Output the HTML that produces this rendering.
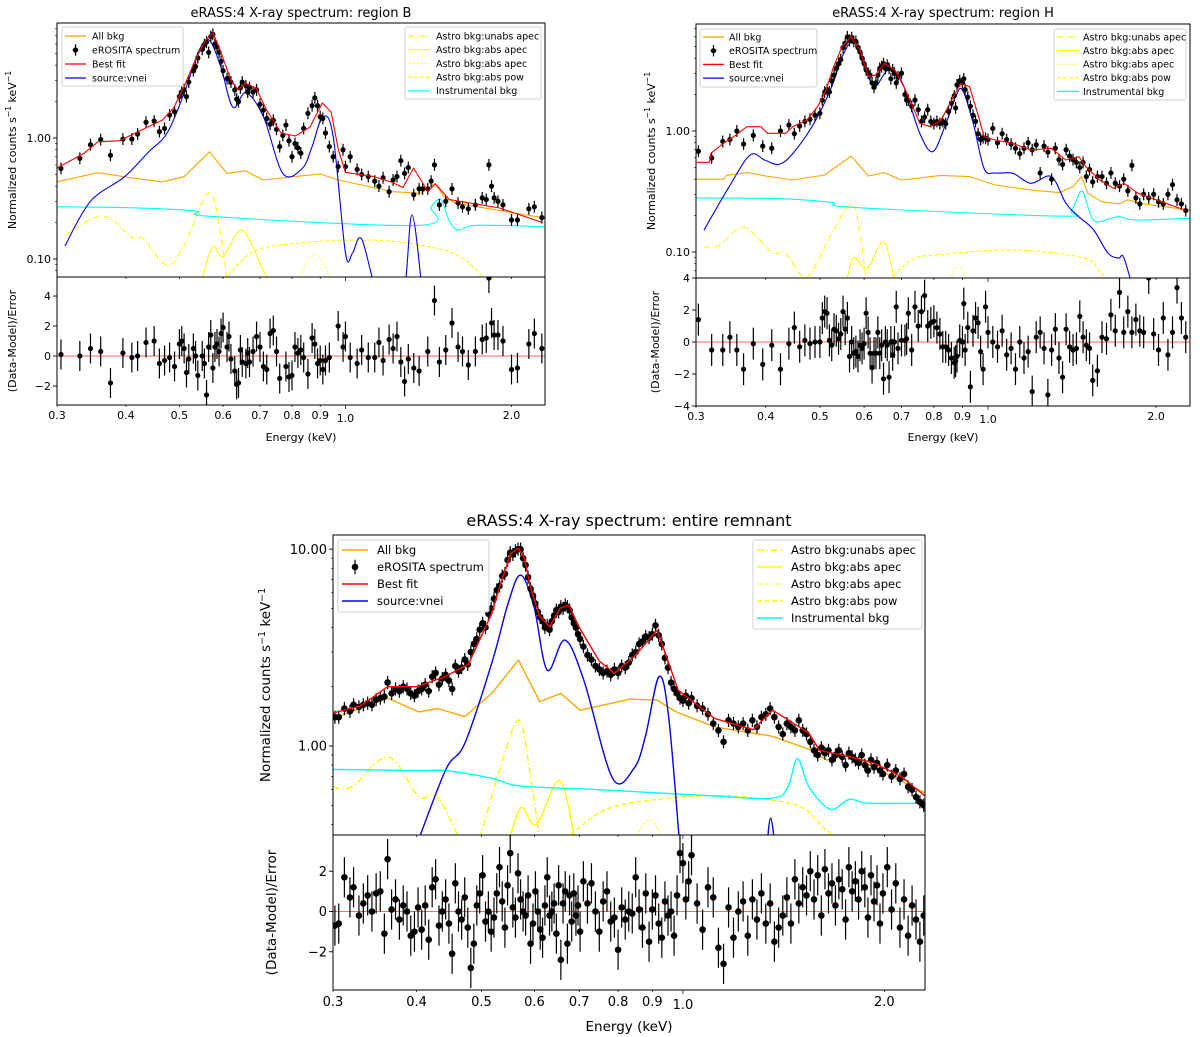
<!DOCTYPE html>
<html><head><meta charset="utf-8">
<style>
html,body{margin:0;padding:0;background:#fff;}
svg{display:block;font-family:"DejaVu Sans","Liberation Sans",sans-serif;}
</style></head>
<body>
<svg id="fig" width="1200" height="1037" viewBox="0 0 1200 1037" xmlns="http://www.w3.org/2000/svg"></svg>
<script>
// ---------- Region B data ----------
const bBestFit=[[0.3,0.565],[0.336,0.75],[0.356,0.93],[0.39,0.95],[0.426,1.16],[0.466,1.41],[0.488,1.77],[0.51,2.66],[0.534,4.4],[0.558,6.45],[0.575,7.4],[0.593,5.3],[0.62,3.0],[0.639,2.5],[0.658,2.84],[0.688,2.6],[0.72,1.70],[0.764,1.10],[0.811,1.04],[0.862,1.23],[0.908,1.95],[0.942,1.64],[0.971,0.80],[1.0,0.52],[1.127,0.48],[1.215,0.43],[1.271,0.39],[1.329,0.565],[1.37,0.45],[1.411,0.36],[1.454,0.42],[1.544,0.31],[1.904,0.264],[2.278,0.20]];
const bAllBkg=[[0.3,0.435],[0.356,0.517],[0.41,0.468],[0.466,0.435],[0.51,0.479],[0.567,0.77],[0.61,0.51],[0.658,0.536],[0.71,0.45],[0.90,0.505],[0.971,0.45],[1.215,0.36],[1.37,0.35],[1.454,0.42],[1.51,0.327],[1.58,0.29],[2.3,0.218]];
const bInstr=[[0.3,0.27],[0.41,0.265],[0.534,0.25],[0.575,0.224],[1.36,0.19],[1.43,0.27],[1.49,0.31],[1.54,0.21],[1.6,0.174],[1.73,0.19],[2.3,0.185]];
const bSource=[[0.31,0.128],[0.345,0.30],[0.397,0.475],[0.44,0.77],[0.475,1.1],[0.51,2.35],[0.54,5.0],[0.565,6.5],[0.594,3.9],[0.625,1.8],[0.66,2.37],[0.71,1.5],[0.77,0.51],[0.835,0.56],[0.87,0.85],[0.91,1.5],[0.95,1.03],[1.0,0.112],[1.03,0.112],[1.07,0.146],[1.15,0.05],[1.27,0.05],[1.32,0.231],[1.38,0.05]];
const bUnabsApec=[[0.31,0.158],[0.363,0.227],[0.41,0.15],[0.43,0.146],[0.475,0.089],[0.51,0.13],[0.565,0.353],[0.594,0.16],[0.615,0.05]];
const bAbsApec=[[0.54,0.05],[0.573,0.125],[0.60,0.105],[0.65,0.174],[0.71,0.08],[0.76,0.05]];
const bAbsApec2=[[0.80,0.05],[0.88,0.11],[0.97,0.05]];
const bAbsPow=[[0.58,0.05],[0.67,0.11],[0.83,0.136],[1.13,0.143],[1.41,0.127],[1.64,0.10],[1.90,0.05]];
const bData=[[0.305,0.56],[0.33,0.68],[0.345,0.88],[0.36,0.97],[0.375,0.72],[0.395,0.98],[0.41,0.98],[0.42,1.08],[0.435,1.35],[0.45,1.38],[0.46,1.13],[0.47,1.20],[0.48,1.55],[0.49,1.65],[0.50,2.2],[0.505,2.4],[0.51,2.5],[0.515,2.2],[0.52,2.9],[0.53,3.6],[0.535,3.9],[0.54,4.6],[0.55,5.4],[0.555,5.9],[0.56,6.2],[0.565,5.1],[0.57,6.9],[0.575,7.2],[0.58,6.0],[0.585,5.7],[0.59,5.1],[0.595,4.3],[0.60,3.6],[0.61,3.1],[0.615,3.1],[0.62,2.9],[0.63,2.5],[0.635,2.1],[0.64,2.0],[0.645,2.6],[0.65,2.9],[0.66,2.7],[0.665,2.4],[0.67,2.6],[0.68,2.4],[0.69,2.5],[0.70,1.9],[0.71,1.7],[0.72,1.45],[0.73,1.30],[0.74,1.40],[0.75,1.18],[0.76,0.85],[0.77,1.05],[0.78,1.28],[0.79,0.95],[0.80,0.7],[0.81,0.9],[0.82,0.83],[0.83,0.75],[0.84,1.2],[0.855,1.6],[0.87,1.85],[0.88,2.15],[0.89,1.85],[0.90,1.5],[0.91,1.45],[0.92,1.1],[0.935,0.85],[0.95,0.7],[0.97,0.58],[0.99,0.80],[1.0,0.58],[1.02,0.70],[1.05,0.55],[1.07,0.50],[1.10,0.48],[1.13,0.44],[1.15,0.40],[1.17,0.47],[1.20,0.36],[1.22,0.45],[1.24,0.48],[1.26,0.65],[1.28,0.51],[1.30,0.57],[1.33,0.34],[1.36,0.38],[1.38,0.38],[1.41,0.38],[1.43,0.44],[1.45,0.60],[1.48,0.28],[1.52,0.30],[1.56,0.38],[1.60,0.29],[1.63,0.27],[1.67,0.26],[1.72,0.28],[1.77,0.32],[1.80,0.31],[1.82,0.60],[1.84,0.40],[1.86,0.32],[1.89,0.30],[1.93,0.28],[2.00,0.21],[2.05,0.21],[2.15,0.26],[2.2,0.27],[2.27,0.22]];
const bResid=[[0.305,0.1],[0.33,0],[0.345,0.5],[0.36,0.3],[0.375,-1.8],[0.395,0.2],[0.41,-0.1],[0.42,0],[0.435,0.9],[0.45,1.0],[0.46,-0.5],[0.47,-0.3],[0.48,-0.1],[0.49,-0.7],[0.50,0.8],[0.505,1.0],[0.51,0.5],[0.515,-1.1],[0.52,-0.2],[0.53,0.5],[0.535,0],[0.54,-1.3],[0.55,0],[0.555,-0.5],[0.56,-2.6],[0.565,0.6],[0.57,1.4],[0.575,-0.8],[0.58,0.6],[0.585,0.8],[0.59,0.3],[0.595,1.5],[0.60,1.9],[0.61,0.6],[0.615,1.3],[0.62,-0.2],[0.63,-1],[0.635,-1.9],[0.64,-1.8],[0.645,0.4],[0.65,-0.4],[0.66,-0.5],[0.665,0.2],[0.67,-0.4],[0.68,0.3],[0.69,1.3],[0.70,0.6],[0.71,-0.7],[0.72,-0.9],[0.73,1.5],[0.74,1.7],[0.75,0.3],[0.76,-1.5],[0.78,-0.7],[0.79,-1.4],[0.80,-1.3],[0.81,0.6],[0.82,0.2],[0.83,0.4],[0.84,-0.1],[0.855,-1.2],[0.87,1.2],[0.88,0.8],[0.89,-0.5],[0.90,-0.3],[0.91,-0.9],[0.92,-0.3],[0.935,-0.1],[0.97,2.0],[0.99,0.6],[1.0,1.3],[1.02,-0.1],[1.05,-0.5],[1.07,0.4],[1.10,-0.1],[1.13,-0.1],[1.15,0.9],[1.17,-0.3],[1.20,1.1],[1.22,0.5],[1.24,1.3],[1.26,-0.4],[1.28,-1.7],[1.30,-0.2],[1.33,-0.8],[1.36,-1.0],[1.41,0.3],[1.45,3.7],[1.48,-0.4],[1.52,0.4],[1.56,2.2],[1.60,0.6],[1.63,0.3],[1.67,-0.6],[1.72,0.3],[1.77,1.1],[1.80,1.2],[1.82,5.2],[1.84,2.2],[1.86,1.4],[1.89,1.4],[1.93,1.0],[2.00,-0.9],[2.05,-0.8],[2.15,0.8],[2.2,1.5],[2.27,0.5]];

// ---------- Region H data ----------
const hBestFit=[[0.301,0.551],[0.317,0.551],[0.319,0.654],[0.336,0.791],[0.354,0.927],[0.37,1.086],[0.392,1.086],[0.403,0.957],[0.434,0.957],[0.447,1.086],[0.474,1.233],[0.495,1.589],[0.51,2.047],[0.529,3.40],[0.548,4.98],[0.569,6.02],[0.59,4.67],[0.611,2.81],[0.629,2.90],[0.652,3.62],[0.681,3.19],[0.712,2.18],[0.755,1.157],[0.789,1.086],[0.824,1.233],[0.861,1.80],[0.893,2.48],[0.927,2.32],[0.962,1.31],[0.984,0.898],[1.03,0.843],[1.108,0.79],[1.193,0.697],[1.298,0.719],[1.379,0.576],[1.454,0.614],[1.497,0.507],[1.585,0.394],[1.678,0.336],[1.752,0.37],[1.855,0.306],[2.254,0.222]];
const hAllBkg=[[0.30,0.40],[0.336,0.40],[0.34,0.43],[0.37,0.453],[0.40,0.425],[0.447,0.394],[0.51,0.433],[0.569,0.62],[0.611,0.425],[0.652,0.453],[0.70,0.394],[0.824,0.43],[0.927,0.42],[1.03,0.358],[1.19,0.326],[1.34,0.31],[1.42,0.347],[1.47,0.42],[1.51,0.306],[1.6,0.26],[1.72,0.25],[1.78,0.27],[1.9,0.25],[2.3,0.222]];
const hInstr=[[0.30,0.28],[0.422,0.276],[0.525,0.257],[0.573,0.234],[1.34,0.198],[1.41,0.22],[1.47,0.32],[1.51,0.237],[1.56,0.178],[1.71,0.196],[1.84,0.184],[2.3,0.19]];
const hSource=[[0.31,0.152],[0.344,0.347],[0.375,0.633],[0.398,0.576],[0.422,0.53],[0.447,0.65],[0.488,1.16],[0.525,2.32],[0.548,4.1],[0.573,5.47],[0.598,3.86],[0.625,2.32],[0.663,3.19],[0.703,2.48],[0.755,0.956],[0.796,0.675],[0.837,1.09],[0.875,1.92],[0.90,2.18],[0.941,1.16],[0.984,0.49],[1.03,0.45],[1.108,0.447],[1.193,0.37],[1.298,0.42],[1.379,0.253],[1.454,0.196],[1.546,0.152],[1.64,0.098],[1.713,0.089],[1.752,0.089],[1.842,0.04]];
const hUnabsApec=[[0.31,0.11],[0.33,0.114],[0.365,0.16],[0.41,0.10],[0.434,0.098],[0.474,0.0625],[0.525,0.143],[0.569,0.249],[0.59,0.143],[0.611,0.04]];
const hAbsApec=[[0.55,0.04],[0.573,0.0886],[0.607,0.073],[0.652,0.12],[0.69,0.04]];
const hAbsApec2=[[0.83,0.04],[0.886,0.0768],[0.945,0.04]];
const hAbsPow=[[0.63,0.04],[0.72,0.083],[0.824,0.095],[1.108,0.104],[1.48,0.09],[1.585,0.069],[1.79,0.04]];
const hData=[[0.303,0.68],[0.32,0.60],[0.335,0.82],[0.345,0.85],[0.355,1.00],[0.365,0.78],[0.38,0.92],[0.395,0.75],[0.41,0.72],[0.425,1.00],[0.44,1.12],[0.45,0.95],[0.46,1.10],[0.47,1.20],[0.48,1.25],[0.49,1.35],[0.50,1.40],
[0.505,1.80],[0.51,2.1],[0.515,2.2],[0.52,2.1],[0.525,2.6],[0.53,2.9],[0.535,3.3],[0.54,3.6],[0.545,3.9],[0.55,4.9],[0.555,5.3],[0.56,6.0],[0.565,5.6],[0.57,5.9],[0.575,5.5],[0.58,5.5],[0.585,4.9],[0.59,4.5],[0.595,4.0],[0.60,3.6],[0.605,3.2],[0.61,3.0],[0.615,2.9],[0.62,2.5],[0.625,2.3],[0.63,2.5],[0.635,2.9],[0.64,3.3],[0.645,3.4],[0.65,3.6],[0.655,3.3],[0.66,3.5],[0.665,3.3],[0.67,2.7],[0.675,3.2],[0.68,3.0],[0.685,2.5],[0.69,2.8],[0.70,3.0],
[0.71,2.0],[0.715,1.8],[0.72,1.8],[0.73,1.6],[0.74,1.8],[0.75,1.5],[0.76,1.2],[0.77,1.3],[0.78,1.5],[0.79,1.2],[0.80,1.15],[0.81,1.2],[0.82,1.15],[0.83,1.2],[0.84,1.15],[0.85,1.45],[0.86,1.7],[0.87,1.95],
[0.875,1.55],[0.88,2.4],[0.89,2.6],[0.90,2.5],[0.905,2.7],[0.91,2.2],[0.92,1.9],[0.93,1.6],[0.94,1.35],[0.95,1.2],[0.96,0.95],[0.97,0.85],[0.98,0.88],[0.99,0.87],[1.0,0.85],
[1.02,1.05],[1.04,0.80],[1.06,0.95],[1.08,0.85],[1.10,0.78],[1.12,0.72],[1.14,0.65],[1.16,0.72],[1.18,0.80],[1.20,0.70],[1.22,0.77],[1.24,0.45],[1.26,0.75],[1.28,0.67],[1.30,0.40],[1.32,0.72],[1.34,0.58],[1.36,0.53],[1.38,0.70],[1.40,0.62],[1.42,0.58],[1.44,0.55],[1.46,0.50],[1.48,0.55],[1.50,0.42],[1.52,0.48],[1.54,0.38],
[1.57,0.42],[1.60,0.42],[1.63,0.37],[1.66,0.45],[1.69,0.37],[1.72,0.35],[1.75,0.40],[1.78,0.32],[1.81,0.52],[1.84,0.28],[1.87,0.25],[1.90,0.30],
[1.94,0.28],[1.98,0.30],[2.02,0.26],[2.06,0.25],[2.10,0.30],[2.14,0.36],[2.18,0.27],[2.22,0.25],[2.26,0.22]];
const hResid=[1.4,-0.5,-0.5,0.3,-0.5,-1.7,-0.1,-1.4,-0.2,-1.7,-0.1,0.9,-0.3,0.1,-0.1,0.0,0.0,
1.5,1.9,1.8,0.1,-0.2,0.8,0.7,0.2,0.5,1.9,0.8,1.5,-0.9,0.0,-0.7,-0.6,-0.9,-0.2,-0.4,-0.1,1.8,0.6,-0.7,-1.6,-0.7,-0.7,0.6,-0.7,-0.2,-2.3,0.0,-0.2,-2.2,0.0,-0.8,0.0,2.2,-0.4,0.1,
0.1,0.2,1.8,-0.5,2.2,1.0,1.9,2.9,1.0,1.2,1.3,0.9,0.5,-0.3,-0.3,-0.5,-1.0,-1.3,
-1.2,-0.9,0.1,0,2.4,-0.5,0.9,-2.8,0.7,1.5,1.2,-0.6,-1.7,2.2,0.6,
0.0,-0.3,0.7,-0.8,-0.4,-1.7,0.0,-1.0,-0.6,-3.1,0.3,0.6,-0.4,-3.3,-0.5,0.8,-1.0,-2.2,0.8,-0.3,-0.5,-0.4,1.6,0.3,-0.2,-0.4,-2.4,
-1.8,0.3,0.2,1.7,0.7,3.1,0.6,1.9,0.6,1.4,0.7,0.6,
4.0,0.5,-0.5,1.5,-0.8,0.6,3.4,1.5,0.3];

// ---------- Entire remnant data ----------
const mBestFit=[[0.3,1.47],[0.33,1.6],[0.362,2.0],[0.40,2.0],[0.44,2.24],[0.478,2.6],[0.518,4.7],[0.532,6.4],[0.553,9.5],[0.568,10.1],[0.58,9.0],[0.591,6.5],[0.61,4.6],[0.632,4.03],[0.655,5.0],[0.675,5.2],[0.70,4.0],[0.75,2.7],[0.79,2.34],[0.85,2.9],[0.915,3.88],[0.94,3.0],[0.984,1.92],[1.116,1.38],[1.274,1.21],[1.361,1.52],[1.435,1.36],[1.543,1.16],[1.6,0.95],[1.773,0.883],[1.93,0.82],[2.12,0.70],[2.306,0.553]];
const mAllBkg=[[0.3,1.38],[0.362,1.75],[0.403,1.49],[0.43,1.55],[0.472,1.41],[0.518,1.85],[0.568,2.73],[0.611,1.68],[0.657,1.85],[0.702,1.52],[0.834,1.73],[0.915,1.71],[0.977,1.49],[1.116,1.25],[1.361,1.12],[1.553,0.954],[1.638,0.849],[1.773,0.90],[2.306,0.575]];
const mInstr=[[0.3,0.76],[0.403,0.75],[0.442,0.75],[0.518,0.686],[0.572,0.627],[0.75,0.60],[1.116,0.557],[1.361,0.543],[1.435,0.62],[1.483,0.866],[1.543,0.62],[1.66,0.477],[1.773,0.536],[1.895,0.512],[2.306,0.512]];
const mSource=[[0.398,0.30],[0.442,0.755],[0.472,1.03],[0.518,2.63],[0.548,5.30],[0.572,7.38],[0.599,5.10],[0.627,2.43],[0.666,3.45],[0.711,2.16],[0.785,0.685],[0.845,0.77],[0.879,1.12],[0.921,2.25],[0.952,1.41],[0.99,0.30]];
const mSource2=[[1.334,0.30],[1.352,0.43],[1.375,0.30]];
const mUnabsApec=[[0.3,0.62],[0.32,0.62],[0.363,0.88],[0.403,0.553],[0.43,0.553],[0.472,0.30],[0.49,0.30],[0.532,0.755],[0.568,1.355],[0.59,0.755],[0.613,0.30]];
const mAbsApec=[[0.546,0.30],[0.572,0.485],[0.604,0.40],[0.655,0.667],[0.693,0.30]];
const mAbsApec2=[[0.834,0.30],[0.891,0.42],[0.952,0.30]];
const mAbsPow=[[0.64,0.30],[0.75,0.457],[0.856,0.52],[1.116,0.56],[1.361,0.53],[1.513,0.485],[1.616,0.39],[1.773,0.30]];
const mData=[[0.302,1.40],[0.306,1.40],[0.312,1.55],[0.318,1.50],[0.322,1.62],[0.328,1.58],[0.333,1.62],[0.338,1.65],[0.343,1.62],[0.348,1.72],[0.353,1.75],[0.358,1.78],[0.362,2.10],[0.367,1.85],[0.372,1.95],[0.377,1.90],[0.382,2.00],[0.387,1.95],[0.392,1.85],[0.397,1.80],[0.402,1.90],[0.407,1.95],[0.412,2.05],[0.417,1.90],[0.422,2.25],[0.427,2.35],[0.432,2.05],[0.437,2.20],[0.442,2.30],[0.447,2.15],[0.452,1.95],[0.457,2.55],[0.462,2.40],[0.467,2.50],[0.472,2.75],[0.477,2.60],[0.482,3.00],[0.487,3.30],[0.492,3.50],[0.497,3.90],[0.502,4.20],[0.507,4.00],[0.512,4.70],[0.517,5.00],[0.522,5.60],[0.527,6.20],[0.532,6.50],[0.537,7.30],[0.542,7.50],[0.547,8.80],[0.552,9.60],[0.557,9.40],[0.562,9.80],[0.567,10.0],[0.572,10.0],[0.577,9.0],[0.582,8.3],[0.587,7.2],[0.592,6.3],[0.597,5.8],[0.602,5.3],[0.607,4.8],[0.612,4.5],[0.617,4.3],[0.622,4.0],[0.627,4.1],[0.632,3.9],[0.637,4.3],[0.642,4.6],[0.647,4.9],[0.652,4.8],[0.657,5.1],[0.662,5.0],[0.667,5.2],[0.672,5.1],[0.677,4.9],[0.682,4.5],[0.687,4.2],[0.692,4.0],[0.697,3.7],[0.702,3.5],[0.71,3.2],[0.72,2.9],[0.73,2.75],[0.74,2.55],[0.75,2.45],[0.76,2.35],[0.77,2.40],[0.78,2.30],[0.79,2.45],[0.80,2.35],[0.81,2.55],[0.82,2.50],[0.83,2.65],[0.84,2.90],[0.85,3.00],[0.86,3.30],[0.87,3.40],[0.88,3.60],[0.89,3.55],[0.90,3.70],[0.91,4.10],[0.92,3.65],[0.93,3.30],[0.94,2.80],[0.95,2.50],[0.96,2.10],[0.97,1.95],[0.98,1.85],[0.99,1.75],[1.0,1.70],[1.01,1.80],[1.02,1.65],[1.03,1.75],[1.05,1.60],[1.07,1.55],[1.09,1.45],[1.11,1.30],[1.13,1.20],[1.15,1.05],[1.17,1.35],[1.19,1.30],[1.21,1.25],[1.23,1.30],[1.25,1.20],[1.27,1.35],[1.29,1.25],[1.31,1.40],[1.33,1.45],[1.35,1.55],[1.37,1.40],[1.39,1.25],[1.41,1.15],[1.43,1.30],[1.45,1.25],[1.47,1.20],[1.49,1.35],[1.51,1.20],[1.53,1.15],[1.55,1.05],[1.57,0.95],[1.59,0.90],[1.61,0.98],[1.63,0.92],[1.65,0.95],[1.67,0.85],[1.69,0.90],[1.71,0.95],[1.73,0.88],[1.75,0.80],[1.77,0.92],[1.79,0.88],[1.81,0.85],[1.83,0.82],[1.85,0.90],[1.87,0.80],[1.89,0.75],[1.91,0.85],[1.93,0.78],[1.95,0.82],[1.97,0.75],[1.99,0.72],[2.02,0.80],[2.05,0.70],[2.08,0.75],[2.11,0.68],[2.14,0.72],[2.17,0.62],[2.20,0.60],[2.23,0.55],[2.26,0.52],[2.29,0.50]];
const mResid=[[0.302,-0.7],[0.306,-0.6],[0.312,1.7],[0.318,0.7],[0.322,1.2],[0.328,-0.2],[0.333,0.4],[0.338,0.8],[0.343,0.0],[0.348,0.9],[0.353,1.0],[0.358,-1.1],[0.362,2.6],[0.367,0.1],[0.372,0.6],[0.377,-0.4],[0.382,0.3],[0.387,0.0],[0.392,-1.2],[0.397,-1.0],[0.402,0.2],[0.407,-0.9],[0.412,0.3],[0.417,-1.4],[0.422,1.2],[0.427,1.6],[0.432,-0.7],[0.437,0.0],[0.442,0.6],[0.447,-0.6],[0.452,-2.1],[0.457,1.4],[0.462,0.0],[0.467,-0.4],[0.472,0.7],[0.477,-0.8],[0.482,-2.8],[0.487,-1.6],[0.492,0.3],[0.497,0.9],[0.502,1.8],[0.507,-0.5],[0.512,0.0],[0.517,-1.0],[0.522,-0.3],[0.527,0.9],[0.532,2.2],[0.537,0.5],[0.542,-0.8],[0.547,1.3],[0.552,2.9],[0.557,0.2],[0.562,-0.3],[0.567,1.9],[0.572,0.6],[0.577,0.0],[0.582,-0.2],[0.587,0.8],[0.592,-1.6],[0.597,-0.6],[0.602,1.0],[0.607,0.0],[0.612,-0.9],[0.617,-1.3],[0.622,0.3],[0.627,1.7],[0.632,-0.2],[0.637,0.0],[0.642,0.4],[0.647,-1.1],[0.652,1.3],[0.657,-2.4],[0.662,0.4],[0.667,1.0],[0.672,-1.6],[0.677,0.8],[0.682,-0.5],[0.687,0.9],[0.692,-0.2],[0.697,0.3],[0.702,-1.0],[0.71,1.5],[0.72,0.4],[0.73,1.4],[0.74,0.0],[0.75,-1.0],[0.76,0.5],[0.77,1.0],[0.78,-0.5],[0.79,-0.3],[0.80,-1.9],[0.81,0.2],[0.82,-0.4],[0.83,0.0],[0.84,-0.1],[0.85,1.7],[0.86,0.1],[0.87,-0.8],[0.88,0.9],[0.89,-1.5],[0.90,0.1],[0.91,0.8],[0.92,-0.6],[0.93,-1.3],[0.94,0.5],[0.95,-0.2],[0.96,0.0],[0.97,-1.2],[0.98,0.8],[0.99,2.9],[1.0,2.4],[1.01,0.6],[1.02,1.5],[1.03,2.8],[1.05,0.4],[1.07,-0.9],[1.09,1.2],[1.11,0.7],[1.13,-1.8],[1.15,-2.6],[1.17,0.2],[1.19,-1.3],[1.21,0.0],[1.23,0.5],[1.25,-1.2],[1.27,0.6],[1.29,-0.4],[1.31,0.9],[1.33,-0.6],[1.35,0.4],[1.37,-1.5],[1.39,-0.8],[1.41,-0.2],[1.43,0.7],[1.45,-0.6],[1.47,1.6],[1.49,0.4],[1.51,1.2],[1.53,0.8],[1.55,2.0],[1.57,0.6],[1.59,1.8],[1.61,-0.2],[1.63,2.1],[1.65,0.9],[1.67,1.4],[1.69,0.3],[1.71,1.6],[1.73,1.1],[1.75,-0.4],[1.77,2.2],[1.79,1.0],[1.81,1.5],[1.83,0.6],[1.85,2.0],[1.87,1.2],[1.89,-0.3],[1.91,1.8],[1.93,0.5],[1.95,1.3],[1.97,-0.6],[1.99,0.9],[2.02,2.2],[2.05,0.1],[2.08,1.4],[2.11,-0.8],[2.14,0.6],[2.17,-1.2],[2.20,0.3],[2.23,-0.4],[2.26,-1.5],[2.29,-0.2]];

const xTickVals=[0.3,0.4,0.5,0.6,0.7,0.8,0.9,1.0,2.0];
const xTickLabels=['0.3','0.4','0.5','0.6','0.7','0.8','0.9','1.0','2.0'];

const NS='http://www.w3.org/2000/svg';
const fig=document.getElementById('fig');
function mk(tag,attrs,parent){const e=document.createElementNS(NS,tag);for(const k in attrs)e.setAttribute(k,attrs[k]);(parent||fig).appendChild(e);return e;}
const L10=Math.log10;
function smoothPath(pts){
  if(pts.length<3)return 'M'+pts.map(p=>p[0].toFixed(1)+','+p[1].toFixed(1)).join(' L');
  let d='M'+pts[0][0].toFixed(1)+','+pts[0][1].toFixed(1);
  for(let i=0;i<pts.length-1;i++){
    const p0=pts[Math.max(0,i-1)],p1=pts[i],p2=pts[i+1],p3=pts[Math.min(pts.length-1,i+2)];
    const c1x=p1[0]+(p2[0]-p0[0])/6,c1y=p1[1]+(p2[1]-p0[1])/6;
    const c2x=p2[0]-(p3[0]-p1[0])/6,c2y=p2[1]-(p3[1]-p1[1])/6;
    d+=' C'+c1x.toFixed(1)+','+c1y.toFixed(1)+' '+c2x.toFixed(1)+','+c2y.toFixed(1)+' '+p2[0].toFixed(1)+','+p2[1].toFixed(1);
  }
  return d;
}

function drawPanel(P,D){
  const g=mk('g',{});
  
  
  const xs=e=>P.L+(P.R-P.L)*(L10(e)-L10(P.emin))/(L10(P.emax)-L10(P.emin));
  const ys=v=>P.T+(P.S-P.T)*(L10(P.ymax)-L10(v))/(L10(P.ymax)-L10(P.ymin));
  const rs=v=>P.S+(P.Bt-P.S)*(P.rmax-v)/(P.rmax-P.rmin);
  const cid=P.id+'clip';
  const cp=mk('clipPath',{id:cid},g);mk('rect',{x:P.L,y:P.T,width:P.R-P.L,height:P.S-P.T},cp);
  const cid2=P.id+'clip2';
  const cp2=mk('clipPath',{id:cid2},g);mk('rect',{x:P.L,y:P.S,width:P.R-P.L,height:P.Bt-P.S},cp2);
  const t=mk('text',{x:(P.L+P.R)/2,y:P.titleY,'text-anchor':'middle','font-size':P.tfs,fill:'#000'},g);
  t.textContent=P.title;
  
  
  const plot=mk('g',{'clip-path':'url(#'+cid+')'},g);
  function curve(arr,color,dash,name,smooth){
    const pts=arr.map(d=>[xs(d[0]),ys(d[1])]);
    const dstr=smooth?smoothPath(pts):'M'+pts.map(p=>p[0].toFixed(1)+','+p[1].toFixed(1)).join(' L');
    const p=mk('path',{d:dstr,fill:'none',stroke:color,'stroke-width':P.lw,'stroke-dasharray':dash||'none','stroke-linejoin':'round'},plot);
    
    
  }
  curve(D.pow,'#ffff00',P.dashed,'astro-abs-pow-line',true);
  curve(D.apec2,'#ffff00',P.dotted,'astro-abs-apec-dotted-line',true);
  curve(D.apec,'#ffff00',null,'astro-abs-apec-line',true);
  curve(D.unabs,'#ffff00',P.dashdot,'astro-unabs-apec-line',true);
  curve(D.instr,'#00ffff',null,'instrumental-bkg-line',true);
  curve(D.bkg,'#ffa500',null,'all-bkg-line',false);
  curve(D.src,'#0000ff',null,'source-vnei-line',true);
  if(D.src2)curve(D.src2,'#0000ff',null,'source-vnei-line-2',true);
  D.data.forEach(d=>{
    const x=xs(d[0]),y=ys(d[1]);
    const eb=mk('line',{x1:x,x2:x,y1:ys(d[1]*(1+P.err)),y2:ys(d[1]/(1+P.err)),stroke:'#000','stroke-width':1.2},plot);
    
    
    const c=mk('circle',{cx:x,cy:y,r:P.mr,fill:'#000'},plot);
    
    
  });
  curve(D.fit,'#ff0000',null,'best-fit-line',false);
  const rp=mk('g',{'clip-path':'url(#'+cid2+')'},g);
  const zl=mk('line',{x1:P.L,x2:P.R,y1:rs(0),y2:rs(0),stroke:'#ff0000','stroke-width':1,opacity:0.6},rp);
  
  
  D.resid.forEach((d,i)=>{
    const e=D.residE?(D.residE[i]?D.residE[i][0]:undefined):d[0];
    const v=D.residE?d:d[1];
    if(e===undefined)return;
    const x=xs(e);
    const eb=mk('line',{x1:x,x2:x,y1:rs(v+1),y2:rs(v-1),stroke:'#000','stroke-width':1.2},rp);
    
    
    const c=mk('circle',{cx:x,cy:rs(v),r:P.mr,fill:'#000'},rp);
    
    
  });
  [[P.T,P.S,'spectrum-axes-frame'],[P.S,P.Bt,'residual-axes-frame']].forEach(f=>{
    const r=mk('rect',{x:P.L,y:f[0],width:P.R-P.L,height:f[1]-f[0],fill:'none',stroke:'#000','stroke-width':1},g);
    
    
  });
  for(let dec=-2;dec<=1;dec++){for(let m=1;m<=9;m++){
    const v=m*Math.pow(10,dec);if(v<P.ymin||v>P.ymax)continue;
    const y=ys(v);const len=m===1?4:2;
    mk('line',{x1:P.L-len,x2:P.L,y1:y,y2:y,stroke:'#000','stroke-width':m===1?0.9:0.6},g);
    if(m===1){const tl=mk('text',{x:P.L-6,y:y+P.fs*0.36,'text-anchor':'end','font-size':P.fs},g);
      tl.textContent=v>=10?'10.00':v>=1?'1.00':'0.10';
      
      }
  }}
  xTickVals.forEach((e,i)=>{
    const x=xs(e);
    mk('line',{x1:x,x2:x,y1:P.S,y2:P.S+(e===1?4:2),stroke:'#000','stroke-width':0.7},g);
    mk('line',{x1:x,x2:x,y1:P.Bt,y2:P.Bt+(e===1?4:2),stroke:'#000','stroke-width':0.7},g);
    const tl=mk('text',{x:x,y:P.Bt+P.fs+3+(e===1?3:0),'text-anchor':'middle','font-size':P.fs},g);
    tl.textContent=xTickLabels[i];
    
    
  });
  P.rticks.forEach(v=>{
    const y=rs(v);
    mk('line',{x1:P.L-4,x2:P.L,y1:y,y2:y,stroke:'#000','stroke-width':0.9},g);
    const tl=mk('text',{x:P.L-6,y:y+P.fs*0.36,'text-anchor':'end','font-size':P.fs},g);
    tl.textContent=v<0?'\u2212'+(-v):String(v);
    
    
  });
  const yl=mk('text',{transform:'translate('+P.ylx+','+(P.T+P.S)/2+') rotate(-90)','text-anchor':'middle','font-size':P.lfs},g);
  yl.innerHTML='Normalized counts s<tspan dy="-5" font-size="'+(P.lfs*0.7)+'">\u22121</tspan><tspan dy="5"> keV</tspan><tspan dy="-5" font-size="'+(P.lfs*0.7)+'">\u22121</tspan>';
  
  
  const rl=mk('text',{transform:'translate('+P.rlx+','+(P.S+P.Bt)/2+') rotate(-90)','text-anchor':'middle','font-size':P.lfs},g);
  rl.textContent='(Data-Model)/Error';
  
  
  const xl=mk('text',{x:(P.L+P.R)/2,y:P.xly,'text-anchor':'middle','font-size':P.lfs},g);
  xl.textContent='Energy (keV)';
  
  
  function legend(box,items,name){
    const lg=mk('g',{},g);
    
    
    mk('rect',{x:box.x,y:box.y,width:box.w,height:box.h,rx:2,fill:'#fff','fill-opacity':0.85,stroke:'#d0d0d0','stroke-width':1},lg);
    items.forEach((it,i)=>{
      const cy=box.y0+i*box.dy;
      const row=mk('g',{},lg);
      
      
      if(it.marker){
        mk('line',{x1:(box.lx1+box.lx2)/2-3,x2:(box.lx1+box.lx2)/2+3,y1:cy,y2:cy,stroke:'#000','stroke-width':1},row);
        mk('line',{x1:(box.lx1+box.lx2)/2,x2:(box.lx1+box.lx2)/2,y1:cy-P.mr*2.2,y2:cy+P.mr*2.2,stroke:'#000','stroke-width':1.2},row);
        mk('circle',{cx:(box.lx1+box.lx2)/2,cy:cy,r:P.mr,fill:'#000'},row);
      } else {
        mk('line',{x1:box.lx1,x2:box.lx2,y1:cy,y2:cy,stroke:it.c,'stroke-width':P.lw*1.1,'stroke-dasharray':it.d||'none'},row);
      }
      const tx=mk('text',{x:box.tx,y:cy+box.fs*0.36,'font-size':box.fs},row);
      tx.textContent=it.t;
    });
  }
  legend(P.leg1,[{t:'All bkg',c:'#ffa500'},{t:'eROSITA spectrum',marker:true},{t:'Best fit',c:'#ff0000'},{t:'source:vnei',c:'#0000ff'}],'legend-left');
  legend(P.leg2,[{t:'Astro bkg:unabs apec',c:'#ffff00',d:P.dashdot},{t:'Astro bkg:abs apec',c:'#ffff00'},{t:'Astro bkg:abs apec',c:'#ffff00',d:P.dotted},{t:'Astro bkg:abs pow',c:'#ffff00',d:P.dashed},{t:'Instrumental bkg',c:'#00ffff'}],'legend-right');
}

drawPanel({id:'b',L:57,R:545,T:23,S:277,Bt:405,emin:0.3,emax:2.3,ymin:0.071,ymax:8.93,rmin:-3.27,rmax:5.27,rticks:[-2,0,2,4],
  title:'eRASS:4 X-ray spectrum: region B',titleY:17,tfs:13,fs:11,lfs:11,lw:1.1,mr:2.6,err:0.12,
  ylx:16,rlx:16,xly:441,dashed:'4,2',dotted:'1,1.5',dashdot:'6,2,1,2',
  leg1:{x:62,y:27,w:121,h:59,y0:36,dy:14,lx1:65,lx2:86,tx:92,fs:9.5},
  leg2:{x:405,y:27,w:136,h:72,y0:36,dy:13.7,lx1:408,lx2:430,tx:436,fs:9.5}},
  {fit:bBestFit,bkg:bAllBkg,instr:bInstr,src:bSource,unabs:bUnabsApec,apec:bAbsApec,apec2:bAbsApec2,pow:bAbsPow,data:bData,resid:bResid});

drawPanel({id:'h',L:696,R:1190,T:24,S:278,Bt:406,emin:0.3,emax:2.3,ymin:0.061,ymax:7.66,rmin:-4,rmax:4,rticks:[-4,-2,0,2,4],
  title:'eRASS:4 X-ray spectrum: region H',titleY:17,tfs:13,fs:11,lfs:11,lw:1.1,mr:2.6,err:0.12,
  ylx:655,rlx:659,xly:441,dashed:'4,2',dotted:'1,1.5',dashdot:'6,2,1,2',
  leg1:{x:700,y:29,w:117,h:58,y0:37,dy:13.7,lx1:703,lx2:724,tx:729,fs:9.5},
  leg2:{x:1054,y:29,w:132,h:71,y0:37,dy:13.6,lx1:1057,lx2:1079,tx:1083,fs:9.5}},
  {fit:hBestFit,bkg:hAllBkg,instr:hInstr,src:hSource,unabs:hUnabsApec,apec:hAbsApec,apec2:hAbsApec2,pow:hAbsPow,data:hData,resid:hResid,residE:hData});

drawPanel({id:'m',L:333,R:925,T:535,S:835,Bt:990,emin:0.3,emax:2.3,ymin:0.353,ymax:11.8,rmin:-3.9,rmax:3.8,rticks:[-2,0,2],
  title:'eRASS:4 X-ray spectrum: entire remnant',titleY:526,tfs:16,fs:13,lfs:13.5,lw:1.4,mr:3.3,err:0.08,
  ylx:270,rlx:276,xly:1031,dashed:'5,2.5',dotted:'1.2,2',dashdot:'7,2.5,1.5,2.5',
  leg1:{x:338,y:540,w:151,h:72,y0:550,dy:17,lx1:342,lx2:368,tx:377,fs:11.5},
  leg2:{x:753,y:540,w:169,h:89,y0:550,dy:17,lx1:757,lx2:783,tx:791,fs:11.5}},
  {fit:mBestFit,bkg:mAllBkg,instr:mInstr,src:mSource,src2:mSource2,unabs:mUnabsApec,apec:mAbsApec,apec2:mAbsApec2,pow:mAbsPow,data:mData,resid:mResid});
</script>
</body></html>
